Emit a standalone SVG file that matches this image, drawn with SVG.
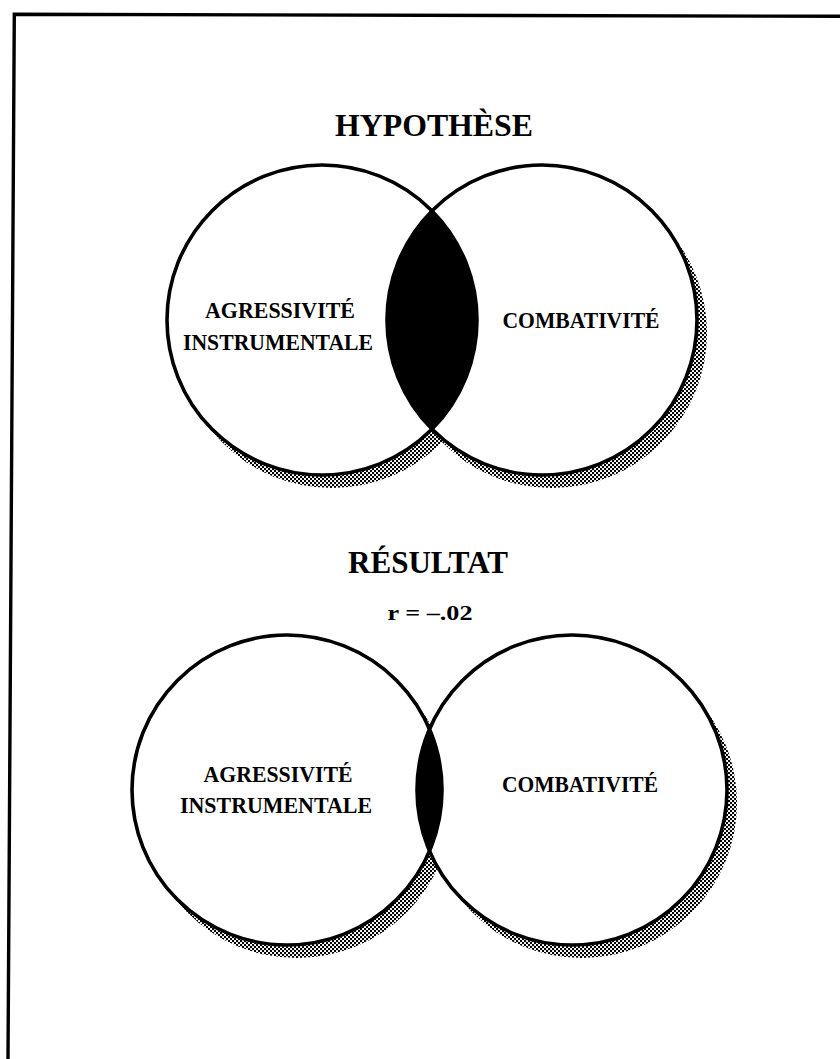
<svg xmlns="http://www.w3.org/2000/svg" width="840" height="1059" viewBox="0 0 840 1059">
  <defs>
    <pattern id="dots" patternUnits="userSpaceOnUse" width="4" height="4">
      <rect x="0" y="0" width="2.1" height="2.1" fill="#000"/>
      <rect x="2" y="2" width="2.1" height="2.1" fill="#000"/>
    </pattern>
    <clipPath id="clipTopL"><circle cx="322" cy="320" r="155"/></clipPath>
    <clipPath id="clipBotL"><circle cx="287" cy="790" r="155"/></clipPath>
  </defs>
  <style>
    .ring { fill: none; stroke: #000; stroke-width: 3.6; }
    .fillw { fill: #fff; }
    .shadow { fill: url(#dots); }
    .lens { fill: #000; }
    .title { font-family: "Liberation Serif", "Times New Roman", serif; font-weight: bold; font-size: 31px; fill: #000; text-anchor: middle; }
    .lbl { font-family: "Liberation Serif", "Times New Roman", serif; font-weight: bold; font-size: 24px; fill: #000; text-anchor: middle; }
    .r { font-family: "Liberation Serif", "Times New Roman", serif; font-weight: bold; font-size: 22px; fill: #000; text-anchor: middle; }
  </style>
  <rect width="840" height="1059" fill="#fff"/>
  <path d="M 8 1059 L 14.3 14.3 L 840 16.3" fill="none" stroke="#000" stroke-width="3.4"/>

  <text id="title-hypothese" class="title" x="434" y="136" textLength="198" lengthAdjust="spacingAndGlyphs">HYPOTHÈSE</text>

  <g id="hypothese-venn">
    <circle class="shadow" cx="332" cy="333" r="155"/>
    <circle class="shadow" cx="552" cy="333" r="155"/>
    <circle class="fillw" cx="322" cy="320" r="155"/>
    <circle class="fillw" cx="542" cy="320" r="155"/>
    <circle class="lens" cx="542" cy="320" r="155" clip-path="url(#clipTopL)"/>
    <g id="node-agressivite-top">
      <circle class="ring" cx="322" cy="320" r="155"/>
      <text class="lbl" x="280" y="318" textLength="150" lengthAdjust="spacingAndGlyphs">AGRESSIVITÉ</text>
      <text class="lbl" x="278" y="350" textLength="190" lengthAdjust="spacingAndGlyphs">INSTRUMENTALE</text>
    </g>
    <g id="node-combativite-top">
      <circle class="ring" cx="542" cy="320" r="155"/>
      <text class="lbl" x="581" y="328" textLength="157" lengthAdjust="spacingAndGlyphs">COMBATIVITÉ</text>
    </g>
  </g>

  <text id="title-resultat" class="title" x="428" y="573" textLength="160" lengthAdjust="spacingAndGlyphs">RÉSULTAT</text>
  <text id="r-value" class="r" x="430" y="620" textLength="85" lengthAdjust="spacingAndGlyphs">r = –.02</text>

  <g id="resultat-venn">
    <circle class="shadow" cx="297" cy="803" r="155"/>
    <circle class="shadow" cx="582" cy="803" r="155"/>
    <circle class="fillw" cx="287" cy="790" r="155"/>
    <circle class="fillw" cx="572" cy="790" r="155"/>
    <circle class="lens" cx="572" cy="790" r="155" clip-path="url(#clipBotL)"/>
    <g id="node-agressivite-bottom">
      <circle class="ring" cx="287" cy="790" r="155"/>
      <text class="lbl" x="278" y="782" textLength="149" lengthAdjust="spacingAndGlyphs">AGRESSIVITÉ</text>
      <text class="lbl" x="276" y="813" textLength="192" lengthAdjust="spacingAndGlyphs">INSTRUMENTALE</text>
    </g>
    <g id="node-combativite-bottom">
      <circle class="ring" cx="572" cy="790" r="155"/>
      <text class="lbl" x="580" y="792" textLength="156" lengthAdjust="spacingAndGlyphs">COMBATIVITÉ</text>
    </g>
  </g>
</svg>
